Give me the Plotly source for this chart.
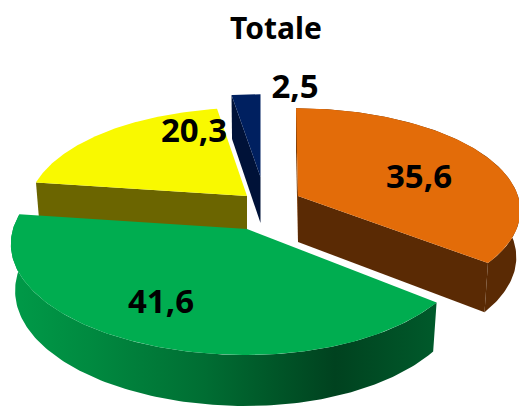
import numpy as np
import plotly.graph_objects as go

# Data
categories = ["A", "B", "C", "D"]
values = [35.6, 41.6, 20.3, 2.5]
title_text = "Totale"

# Styles / layout of each exploded slice (same order as values)
top_colors = ["#E36C09", "#00AD50", "#F9F900", "#002060"]
side_colors = ["#5A2A04", "#005A2B", "#6B6500", "#001238"]
apex_x = [298, 247, 247, 260.5]
apex_y = [196, 229, 196, 177]
rad_right = [220, 221, 215, 210]
rad_left = [220, 234, 217, 210]
rad_depth = [99.5, 109, 100, 94]
skew = [2, 0, 0, 0]
label_x = [419, 161, 194, 295]
label_y = [180, 305, 134, 90]
PERSP = 0.135
FONT = "Noto Sans"


def project(i, theta):
    u, v = np.sin(theta), -np.cos(theta)
    d = 1 - PERSP * v
    r = np.where(u >= 0, rad_right[i], rad_left[i])
    return apex_x[i] + r * u / d + skew[i] * v, apex_y[i] + rad_depth[i] * v / d, v


def drop(i, x, y, v):
    h = np.where(v > 0, 46 + 5 * v, 46 + 2 * v)
    return apex_x[i] + (x - apex_x[i]) * 0.982, y + h


def poly(xs, ys, color, **kw):
    return go.Scatter(x=xs, y=ys, mode="lines", fill="toself", fillcolor=color,
                      line=dict(width=0, color=color), hoverinfo="skip", showlegend=False, **kw)


fracs = np.array(values) / sum(values)
starts = np.concatenate([[0], np.cumsum(fracs)[:-1]]) * 2 * np.pi
ends = np.cumsum(fracs) * 2 * np.pi

arcs = []
for i in range(len(values)):
    t = np.linspace(starts[i], ends[i], 140)
    x, y, v = project(i, t)
    bx, by = drop(i, x, y, v)
    arcs.append((x, y, bx, by))


def cut_face(i, end):
    x, y, bx, by = arcs[i]
    ax, ay = apex_x[i], apex_y[i]
    abx, aby = drop(i, np.array(ax, float), np.array(ay, float), np.array(0.0))
    px, py, qx, qy = x[end], y[end], bx[end], by[end]
    return [ax, px, qx, float(abx), ax], [ay, py, qy, float(aby), ay]


def top_face(i):
    x, y, _, _ = arcs[i]
    return [apex_x[i], *x, apex_x[i]], [apex_y[i], *y, apex_y[i]]


def wall(i):
    x, y, bx, by = arcs[i]
    return [*x, *bx[::-1], x[0]], [*y, *by[::-1], y[0]]


traces = []
# yellow: cut face at its start edge, then top
xs, ys = cut_face(2, 0)
traces += [poly(xs, ys, side_colors[2])]
traces += [poly(*top_face(2), top_colors[2])]
# blue
xs, ys = cut_face(3, 0)
traces += [poly(xs, ys, side_colors[3])]
traces += [poly(*top_face(3), top_colors[3])]
# orange
xs, ys = cut_face(0, -1)
traces += [poly(*wall(0), side_colors[0])]
traces += [poly(xs, ys, side_colors[0])]
xs, ys = cut_face(0, 0)
traces += [poly(xs, ys, "#7A3D0A")]
traces += [poly(*top_face(0), top_colors[0])]
# green: wall with a horizontal gradient, then top
wx, wy = wall(1)
traces += [go.Scatter(x=wx, y=wy, mode="lines", line=dict(width=0), hoverinfo="skip", showlegend=False,
                      fill="toself",
                      fillgradient=dict(type="horizontal", start=12, stop=437,
                                        colorscale=[[0, "#009A48"], [0.18, "#008A40"], [0.45, "#006E33"],
                                                    [0.76, "#00421F"], [1, "#005A2B"]]))]
traces += [poly(*top_face(1), top_colors[1])]

traces.append(go.Scatter(
    x=label_x, y=label_y, mode="text",
    text=[f"{v:.1f}".replace(".", ",") for v in values],
    textfont=dict(family=FONT, size=33, color="#000000", weight="bold"),
    textposition="middle center", hoverinfo="skip", showlegend=False))

fig = go.Figure(traces)
fig.update_layout(
    width=519, height=412, margin=dict(l=0, r=0, t=0, b=0),
    paper_bgcolor="white", plot_bgcolor="white", showlegend=False,
    title=dict(text=f"<b>{title_text}</b>", x=276 / 519, y=1 - 28 / 412, xanchor="center", yanchor="middle",
               font=dict(family=FONT, size=30, color="#000000")),
    xaxis=dict(range=[0, 519], visible=False, fixedrange=True),
    yaxis=dict(range=[412, 0], visible=False, fixedrange=True),
)
fig.write_html("out.html", config={"displayModeBar": False},
               post_script="document.body.style.margin='0';document.body.style.overflow='hidden';")
